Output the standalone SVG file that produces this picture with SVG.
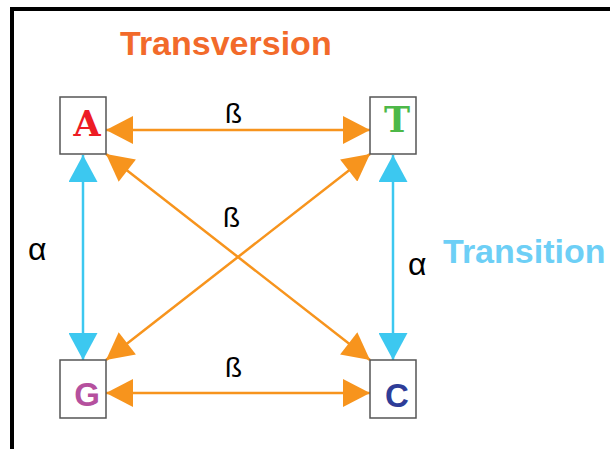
<svg xmlns="http://www.w3.org/2000/svg" width="610" height="449" viewBox="0 0 610 449">
<style>
.box{fill:#fff;stroke:#555;stroke-width:1.5}
.or{stroke:#F7941D;stroke-width:2.5;fill:none}
.cy{stroke:#3CC8F0;stroke-width:2.5;fill:none}
.lbl{font-family:"Liberation Sans",Arial,sans-serif;font-size:28px;fill:#000}
.slab{font-family:"DejaVu Serif",serif;font-weight:bold;font-size:35px;text-anchor:middle}
.sans{font-family:"Liberation Sans",Arial,sans-serif;font-weight:bold;font-size:33px;text-anchor:middle}
.title{font-family:"Liberation Sans",Arial,sans-serif;font-weight:bold;font-size:34px}
</style>
<defs>
<marker id="ao" markerUnits="userSpaceOnUse" markerWidth="28" markerHeight="28" viewBox="0 0 27 28" refX="27" refY="14" orient="auto-start-reverse">
<path d="M0,0 L27,14 L0,28 z" fill="#F7941D"/>
</marker>
<marker id="ac" markerUnits="userSpaceOnUse" markerWidth="28" markerHeight="29" viewBox="0 0 27 29" refX="27" refY="14.5" orient="auto-start-reverse">
<path d="M0,0 L27,14.5 L0,29 z" fill="#3CC8F0"/>
</marker>
</defs>
<rect width="610" height="449" fill="#fff"/>
<path d="M12,449 V9 H610" fill="none" stroke="#000" stroke-width="4"/>
<text class="title" x="120" y="55" fill="#F26A2A">Transversion</text>
<text class="title" x="443" y="263" fill="#6DCFF6">Transition</text>
<g id="connectors">
<line class="or" x1="106" y1="130" x2="370" y2="130" marker-start="url(#ao)" marker-end="url(#ao)"/>
<line class="or" x1="106" y1="393" x2="370" y2="393" marker-start="url(#ao)" marker-end="url(#ao)"/>
<line class="or" x1="106" y1="154" x2="370" y2="360" marker-start="url(#ao)" marker-end="url(#ao)"/>
<line class="or" x1="370" y1="154" x2="106" y2="360" marker-start="url(#ao)" marker-end="url(#ao)"/>
<line class="cy" x1="83" y1="155" x2="83" y2="360" marker-start="url(#ac)" marker-end="url(#ac)"/>
<line class="cy" x1="393" y1="155" x2="393" y2="360" marker-start="url(#ac)" marker-end="url(#ac)"/>
<text class="lbl" x="225" y="123">ß</text>
<text class="lbl" x="223" y="227">ß</text>
<text class="lbl" x="225" y="377">ß</text>
<text class="lbl" x="28" y="260" style="font-size:32px">α</text>
<text class="lbl" x="408" y="275" style="font-size:32px">α</text>
</g>
<g id="node-A">
<rect class="box" x="60" y="97" width="46" height="57"/>
<text class="slab" x="87" y="136" fill="#ED1C24">A</text>
</g>
<g id="node-T">
<rect class="box" x="370" y="97" width="46" height="57"/>
<text class="slab" x="397" y="132" fill="#4DB848">T</text>
</g>
<g id="node-G">
<rect class="box" x="60" y="360" width="46" height="58"/>
<text class="sans" x="87" y="406" fill="#B5509E">G</text>
</g>
<g id="node-C">
<rect class="box" x="370" y="360" width="46" height="58"/>
<text class="sans" x="397" y="407" fill="#2E3D98">C</text>
</g>
</svg>
